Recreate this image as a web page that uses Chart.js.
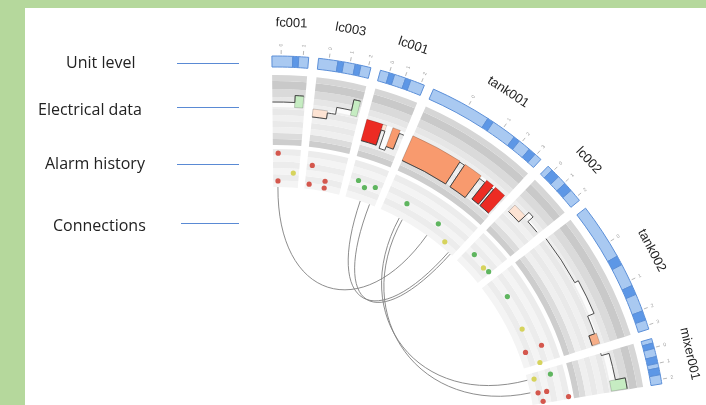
<!DOCTYPE html>
<html>
<head>
<meta charset="utf-8">
<title>Unit overview</title>
<script src="https://cdn.jsdelivr.net/npm/chart.js@4.4.1/dist/chart.umd.min.js"></script>
<style>
  html, body { margin: 0; width: 706px; height: 405px; overflow: hidden; background: #b5d89c; }
  #panel { position: absolute; left: 25px; top: 8px; right: 0; bottom: 0; background: #fff; }
  #chart { position: absolute; left: -174px; top: -3px; }
  .lab { position: absolute; font: 16px/16px "Open Sans", sans-serif; color: #222; white-space: nowrap; }
  .rule { position: absolute; height: 0; border-top: 1.5px solid #5a8ad4; }
</style>
</head>
<body>
<div id="panel"></div>
<canvas id="chart" width="900" height="900"></canvas>

<div class="lab" style="left:66px;top:54px">Unit level</div>
<div class="lab" style="left:38px;top:101px">Electrical data</div>
<div class="lab" style="left:45px;top:155px">Alarm history</div>
<div class="lab" style="left:53px;top:217px">Connections</div>
<div class="rule" style="left:177px;top:63px;width:62px"></div>
<div class="rule" style="left:177px;top:107px;width:62px"></div>
<div class="rule" style="left:177px;top:164px;width:62px"></div>
<div class="rule" style="left:181px;top:223px;width:58px"></div>

<script>
// plant units, clockwise from the top
const segments = ['fc001', 'lc003', 'lc001', 'tank001', 'lc002', 'tank002', 'mixer001'];
const segSpan = [5.4, 7.8, 6.8, 18.9, 6.8, 20.1, 6.8];   // length of each unit on the circle
const segGap = 1.45;
const startDeg = -0.6;

// unit level: shares of each unit, alternating normal / active
const unitLevel = [
  [0.57, 0.16, 0.27],
  [0.37, 0.11, 0.22, 0.11, 0.19],
  [0.2, 0.12, 0.25, 0.12, 0.31],
  [0.48, 0.05, 0.2, 0.05, 0.1, 0.06, 0.06],
  [0.12, 0.2, 0.2, 0.2, 0.28],
  [0.42, 0.07, 0.17, 0.07, 0.13, 0.07, 0.07],
  [0.1, 0.12, 0.18, 0.15, 0.1, 0.15, 0.2]
];

// small ticks above the unit level track
const tickSeg = [0, 0, 1, 1, 1, 2, 2, 2, 3, 3, 3, 3, 4, 4, 4, 5, 5, 5, 5, 6, 6, 6];
const tickPos = [.25, .85, .2, .6, .95, .2, .55, .92, .3, .62, .8, .95, .15, .5, .9, .3, .62, .85, .97, .2, .55, .9];
const tickText = ['0', '1', '0', '1', '2', '0', '1', '2', '0', '1', '2', '3', '0', '1', '2', '0', '1', '2', '3', '0', '1', '2'];

// electrical data: histogram bins (unit, from, to, value, state)
const elecSeg   = [0, 0, 1, 1, 1, 1, 2, 2, 2, 2, 2, 3, 3, 3, 3, 3, 3, 3, 4, 4, 4, 5, 5, 5, 5, 6, 6, 6];
const elecFrom  = [0, .69, 0, .32, .5, .82, 0, .42, .52, .68, .88, 0, .48, .53, .71, .77, .85, .87, .08, .45, .6, 0, .44, .74, .9, 0, .06, .72];
const elecTo    = [.69, .95, .32, .5, .82, .96, .42, .52, .68, .88, 1, .48, .53, .71, .77, .85, .87, .98, .45, .6, .95, .44, .74, .9, .99, .06, .72, .98];
const elecValue = [5, 12, -8, -2, 5, 16, -22, -6, -24, -20, -3, -27, -1, -27, -3, -24, -3, -24, -9, 5, -2, 1, 5, -2, -8, -2, 6, 16];
const elecState = ['n', 'g', 'p', 'n', 'n', 'g', 'r', 'p', 'n', 'o', 'n', 'o', 'n', 'o', 'n', 'r', 'n', 'r', 'p', 'n', 'n', 'n', 'n', 'n', 'l', 'n', 'n', 'g'];
const ELEC_MIN = -38, ELEC_MAX = 32;

// alarm history: (unit, position, level in track, severity)
const alarmSeg   = [0, 0, 0, 1, 1, 1, 1, 2, 2, 2, 3, 3, 3, 4, 4, 4, 5, 5, 5, 5, 5, 6, 6, 6, 6, 6, 6];
const alarmPos   = [.19, .78, .19, .14, .12, .54, .55, .25, .49, .8, .24, .65, .83, .26, .75, .94, .23, .6, .83, .84, .99, .2, .18, .65, .66, .94, .93];
const alarmLevel = [.89, .38, .16, .63, .13, .27, .09, .5, .37, .47, .43, .42, .15, .43, .37, .41, .42, .34, .64, .18, .45, .18, .63, .2, .43, .29, .97];
const alarmState = ['r', 'y', 'r', 'r', 'r', 'r', 'r', 'g', 'g', 'g', 'g', 'g', 'y', 'g', 'y', 'g', 'g', 'y', 'r', 'r', 'y', 'y', 'g', 'r', 'r', 'r', 'r'];

// connections between units
const linkFromSeg = [0, 2, 2, 3, 3];
const linkFromPos = [0.19, 0.5, 0.82, 0.24, 0.28];
const linkToSeg   = [3, 3, 3, 6, 6];
const linkToPos   = [0.62, 0.94, 0.97, 0.18, 0.6];

// ---- styles ----
const CLEAR = 'rgba(0,0,0,0)';
const fillColor = { n: 'rgba(255,255,255,0.8)', g: '#c6ecc2', p: '#fde3d3', o: '#f89a6e', r: '#ec2b23', l: '#f6ae88' };
const dotColor = { r: '#d4574d', y: '#d6d35c', g: '#5fb55f' };
const elecBands = ['#d6d6d6', '#c9c9c9', '#dadada', '#e6e6e6', '#eeeeee', '#e8e8e8', '#f0f0f0', '#e9e9e9', '#efefef', '#dcdcdc', '#cdcdcd'];
const elecBandW = [6, 8, 8, 6, 6, 6, 6, 6, 6, 6, 6];
const alarmBands = ['#ececec', '#f4f4f4', '#ececec', '#f4f4f4', '#ececec', '#f4f4f4'];

const restDeg = 360 - segSpan.reduce((a, b) => a + b, 0) - segGap * (segments.length - 1);

// one slice per unit, gaps and the rest of the circle left empty
function ringDataset(color, weight) {
  const data = [], bg = [];
  segSpan.forEach((s, i) => {
    data.push(s); bg.push(color);
    data.push(i < segSpan.length - 1 ? segGap : restDeg); bg.push(CLEAR);
  });
  return { data: data, backgroundColor: bg, borderWidth: 0, weight: weight };
}

// unit level track split in blocks
const unitData = [], unitColor = [], unitBorder = [];
segments.forEach((name, i) => {
  const total = unitLevel[i].reduce((a, b) => a + b, 0);
  unitLevel[i].forEach((share, k) => {
    unitData.push(share / total * segSpan[i]);
    unitColor.push(k % 2 ? '#5d97e6' : '#a9c9f1');
    unitBorder.push(1);
  });
  unitData.push(i < segments.length - 1 ? segGap : restDeg);
  unitColor.push(CLEAR);
  unitBorder.push(0);
});

const datasets = [];
datasets.push({ label: 'Unit level', data: unitData, backgroundColor: unitColor,
  borderColor: '#5b8fd8', borderWidth: unitBorder, weight: 11 });
datasets.push(ringDataset(CLEAR, 8));
const ELEC_FIRST = datasets.length;
elecBands.forEach((c, i) => datasets.push(ringDataset(c, elecBandW[i])));
const ELEC_LAST = datasets.length - 1;
datasets.push(ringDataset(CLEAR, 4));
const ALARM_FIRST = datasets.length;
alarmBands.forEach(c => datasets.push(ringDataset(c, 38 / alarmBands.length)));
const ALARM_LAST = datasets.length - 1;

// draws labels, ticks, histogram, alarms and links on top of the rings
const overlay = {
  id: 'overlay',
  afterDatasetsDraw(chart) {
    const ctx = chart.ctx;
    const refArcs = chart.getDatasetMeta(ELEC_FIRST).data;
    const cx = refArcs[0].x, cy = refArcs[0].y;
    const unitOuter = chart.getDatasetMeta(0).data[0].outerRadius;
    const elecOuter = refArcs[0].outerRadius;
    const elecInner = chart.getDatasetMeta(ELEC_LAST).data[0].innerRadius;
    const alarmOuter = chart.getDatasetMeta(ALARM_FIRST).data[0].outerRadius;
    const alarmInner = chart.getDatasetMeta(ALARM_LAST).data[0].innerRadius;

    const ang = (s, p) => {
      const a = refArcs[2 * s];
      return a.startAngle + p * (a.endAngle - a.startAngle);
    };
    const pt = (a, r) => [cx + r * Math.cos(a), cy + r * Math.sin(a)];
    const elecR = v => elecInner + (v - ELEC_MIN) / (ELEC_MAX - ELEC_MIN) * (elecOuter - elecInner);

    ctx.save();

    // connections
    const rc = alarmInner * 0.57;
    ctx.strokeStyle = '#808080';
    ctx.lineWidth = 0.9;
    linkFromSeg.forEach((s, i) => {
      const a = ang(s, linkFromPos[i]), b = ang(linkToSeg[i], linkToPos[i]);
      const p0 = pt(a, alarmInner), p1 = pt(a, rc), p2 = pt(b, rc), p3 = pt(b, alarmInner);
      ctx.beginPath();
      ctx.moveTo(p0[0], p0[1]);
      ctx.bezierCurveTo(p1[0], p1[1], p2[0], p2[1], p3[0], p3[1]);
      ctx.stroke();
    });

    // electrical histogram fills
    const base = elecR(0);
    elecSeg.forEach((s, i) => {
      const a0 = ang(s, elecFrom[i]), a1 = ang(s, elecTo[i]);
      const rv = elecR(elecValue[i]);
      ctx.beginPath();
      ctx.arc(cx, cy, Math.max(rv, base), a0, a1);
      ctx.arc(cx, cy, Math.min(rv, base), a1, a0, true);
      ctx.closePath();
      ctx.fillStyle = fillColor[elecState[i]];
      ctx.fill();
      if (elecState[i] !== 'n') {
        ctx.strokeStyle = 'rgba(0,0,0,0.3)';
        ctx.lineWidth = 0.6;
        ctx.stroke();
      }
    });

    // electrical step line
    ctx.strokeStyle = '#3a3a3a';
    ctx.lineWidth = 0.9;
    ctx.beginPath();
    elecSeg.forEach((s, i) => {
      const a0 = ang(s, elecFrom[i]), a1 = ang(s, elecTo[i]);
      const rv = elecR(elecValue[i]);
      const p = pt(a0, rv);
      const joined = i > 0 && elecSeg[i - 1] === s && elecTo[i - 1] === elecFrom[i];
      if (joined) ctx.lineTo(p[0], p[1]); else ctx.moveTo(p[0], p[1]);
      ctx.arc(cx, cy, rv, a0, a1);
    });
    ctx.stroke();

    // alarm history dots
    alarmSeg.forEach((s, i) => {
      const p = pt(ang(s, alarmPos[i]), alarmInner + alarmLevel[i] * (alarmOuter - alarmInner));
      ctx.beginPath();
      ctx.arc(p[0], p[1], 2.6, 0, Math.PI * 2);
      ctx.fillStyle = dotColor[alarmState[i]];
      ctx.fill();
    });

    // ticks above the unit level track
    ctx.strokeStyle = '#9a9a9a';
    ctx.lineWidth = 0.7;
    ctx.fillStyle = '#9a9a9a';
    ctx.font = '5px "Liberation Sans", sans-serif';
    ctx.textAlign = 'center';
    ctx.textBaseline = 'middle';
    tickSeg.forEach((s, i) => {
      const a = ang(s, tickPos[i]);
      const q0 = pt(a, unitOuter + 2), q1 = pt(a, unitOuter + 6);
      ctx.beginPath();
      ctx.moveTo(q0[0], q0[1]);
      ctx.lineTo(q1[0], q1[1]);
      ctx.stroke();
      const q = pt(a, unitOuter + 11);
      ctx.save();
      ctx.translate(q[0], q[1]);
      ctx.rotate(a);
      ctx.fillText(tickText[i], 0, 0);
      ctx.restore();
    });

    // unit names
    ctx.fillStyle = '#222';
    ctx.font = '13px "Liberation Sans", Arial, sans-serif';
    segments.forEach((name, s) => {
      const a = ang(s, 0.5);
      const q = pt(a, unitOuter + 33);
      ctx.save();
      ctx.translate(q[0], q[1]);
      ctx.rotate(a + Math.PI / 2);
      ctx.fillText(name, 0, 0);
      ctx.restore();
    });

    ctx.restore();
  }
};

new Chart(document.getElementById('chart'), {
  type: 'doughnut',
  data: { labels: datasets[1].data.map((d, i) => String(i)), datasets: datasets },
  options: {
    responsive: false,
    animation: false,
    events: [],
    rotation: startDeg,
    circumference: 360,
    radius: 391,
    cutout: (260 / 391 * 100) + '%',
    plugins: { legend: { display: false }, tooltip: { enabled: false } }
  },
  plugins: [overlay]
});
</script>
</body>
</html>
